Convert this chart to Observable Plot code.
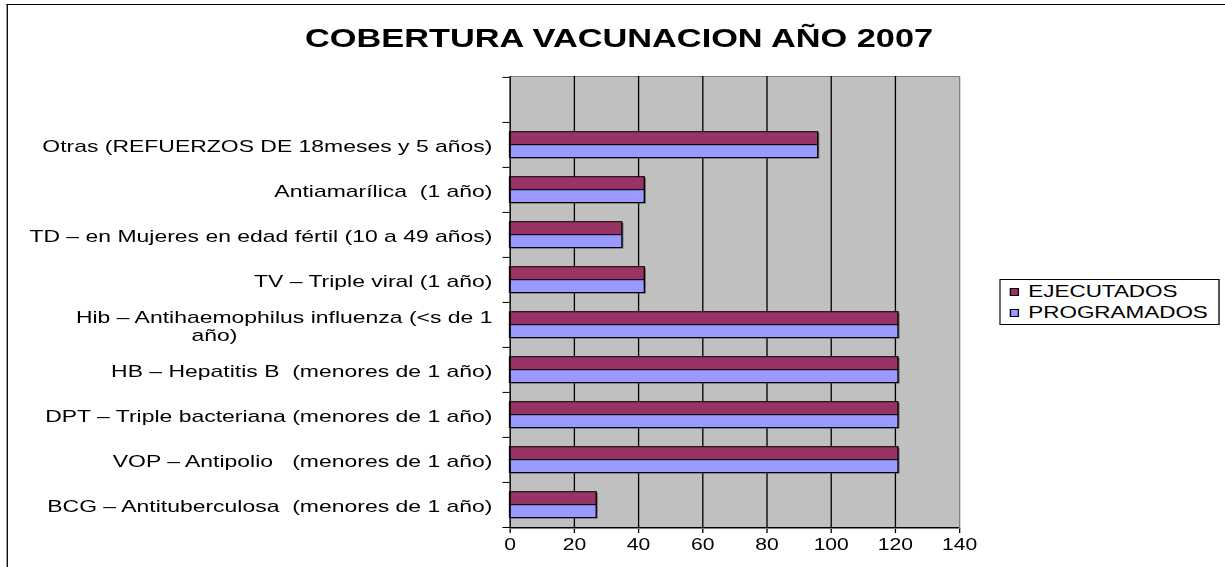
<!DOCTYPE html>
<html>
<head>
<meta charset="utf-8">
<script src="https://cdn.jsdelivr.net/npm/d3@7"></script>
<script src="https://cdn.jsdelivr.net/npm/@observablehq/plot@0.6"></script>
<style>
  html, body { margin: 0; padding: 0; background: #fff; overflow: hidden; width: 1225px; height: 567px; }
  #stage { position: relative; width: 928px; height: 567px; transform: scaleX(1.32); transform-origin: 0 0;
           font-family: "Liberation Sans", Arial, sans-serif; }
  #border { position: absolute; left: 4.5px; top: 4px; width: 1000px; height: 700px; border-left: 1px solid #000; border-top: 1px solid #000; }
  #title { position: absolute; left: 0; top: 25px; width: 938px; text-align: center; font-size: 26px; line-height: 26px; font-weight: bold; color: #000; }
  #chart { position: absolute; left: 0; top: 0; }
  #chart svg text { white-space: pre; }
  #legend { position: absolute; left: 757px; top: 279px; width: 157.5px; border: 1px solid #000; padding: 1px 0 0 7px; box-sizing: content-box; height: 43px; background: #fff; }
  .row { height: 21px; line-height: 21px; font-size: 17px; white-space: nowrap; }
  .sw { display: inline-block; width: 5px; height: 6px; border: 1px solid #000; margin-right: 7px; vertical-align: 1px; }
</style>
</head>
<body>
<div id="stage">
  <div id="border"></div>
  <div id="title"></div>
  <div id="chart"></div>
  <div id="legend"></div>
</div>
<script>
const title = "COBERTURA VACUNACION AÑO 2007";
const blankRow = "";
const categories = [
  "Otras (REFUERZOS DE 18meses y 5 años)",
  "Antiamarílica  (1 año)",
  "TD – en Mujeres en edad fértil (10 a 49 años)",
  "TV – Triple viral (1 año)",
  "Hib – Antihaemophilus influenza (<s de 1\naño)",
  "HB – Hepatitis B  (menores de 1 año)",
  "DPT – Triple bacteriana (menores de 1 año)",
  "VOP – Antipolio   (menores de 1 año)",
  "BCG – Antituberculosa  (menores de 1 año)"
];
const ejecutados  = [96, 42, 35, 42, 121, 121, 121, 121, 27];
const programados = [96, 42, 35, 42, 121, 121, 121, 121, 27];
const seriesNames = ["EJECUTADOS", "PROGRAMADOS"];
const seriesColors = ["#993366", "#9999FF"];
const xTicks = [0, 20, 40, 60, 80, 100, 120, 140];

const rowsE = categories.map((c, i) => ({cat: c, value: ejecutados[i]}));
const rowsP = categories.map((c, i) => ({cat: c, value: programados[i]}));
const yDomain = [blankRow, ...categories];

const H = 567, MT = 76, MB = 39;
const band = (H - MT - MB) / yDomain.length;

const labelText = d => d.includes("\n") ? d + "\u00a0".repeat(40) : d;

const chart = Plot.plot({
  width: 928,
  height: H,
  marginLeft: 386,
  marginRight: 201.5,
  marginTop: MT,
  marginBottom: MB,
  style: {fontFamily: '"Liberation Sans", Arial, sans-serif', fontSize: "16px", color: "#000", background: "transparent", overflow: "visible"},
  x: {domain: [0, 140], ticks: xTicks, tickSize: 5, tickPadding: 5, label: null},
  y: {type: "band", domain: yDomain, padding: 0, axis: null},
  marks: [
    Plot.frame({fill: "#c0c0c0", stroke: "#808080"}),
    Plot.ruleX(xTicks.filter(d => d > 0 && d < 140), {stroke: "#000", strokeWidth: 1}),
    // bar shadows
    Plot.barX(rowsE, {y: "cat", x: "value", insetTop: 9.7, insetBottom: band - 22.7, fill: "#333", fillOpacity: 0.6, dx: 1.2, dy: 1.2}),
    Plot.barX(rowsP, {y: "cat", x: "value", insetTop: 22.7, insetBottom: band - 35.7, fill: "#333", fillOpacity: 0.6, dx: 1.2, dy: 1.2}),
    Plot.barX(rowsE, {y: "cat", x: "value", insetTop: 9.7, insetBottom: band - 22.7, fill: seriesColors[0], stroke: "#000", strokeWidth: 1}),
    Plot.barX(rowsP, {y: "cat", x: "value", insetTop: 22.7, insetBottom: band - 35.7, fill: seriesColors[1], stroke: "#000", strokeWidth: 1}),
    Plot.ruleX([0], {stroke: "#000", strokeWidth: 1}),
    Plot.ruleY(yDomain, {y: d => d, x1: -2.2, x2: 0, dy: -band / 2, stroke: "#000"}),
    Plot.ruleY([categories[categories.length - 1]], {y: d => d, x1: -2.2, x2: 140, dy: band / 2, stroke: "#000"}),
    Plot.text(categories, {y: d => d, x: 0, text: labelText, dx: -13.4, dy: 1.5, textAnchor: "end", fontSize: 17.4, lineHeight: 1.0, fill: "#000"})
  ]
});
document.getElementById("chart").appendChild(chart);
document.getElementById("title").textContent = title;

const legend = document.getElementById("legend");
seriesNames.forEach((name, i) => {
  const row = document.createElement("div");
  row.className = "row";
  const sw = document.createElement("span");
  sw.className = "sw";
  sw.style.background = seriesColors[i];
  row.appendChild(sw);
  row.appendChild(document.createTextNode(name));
  legend.appendChild(row);
});
</script>
</body>
</html>
